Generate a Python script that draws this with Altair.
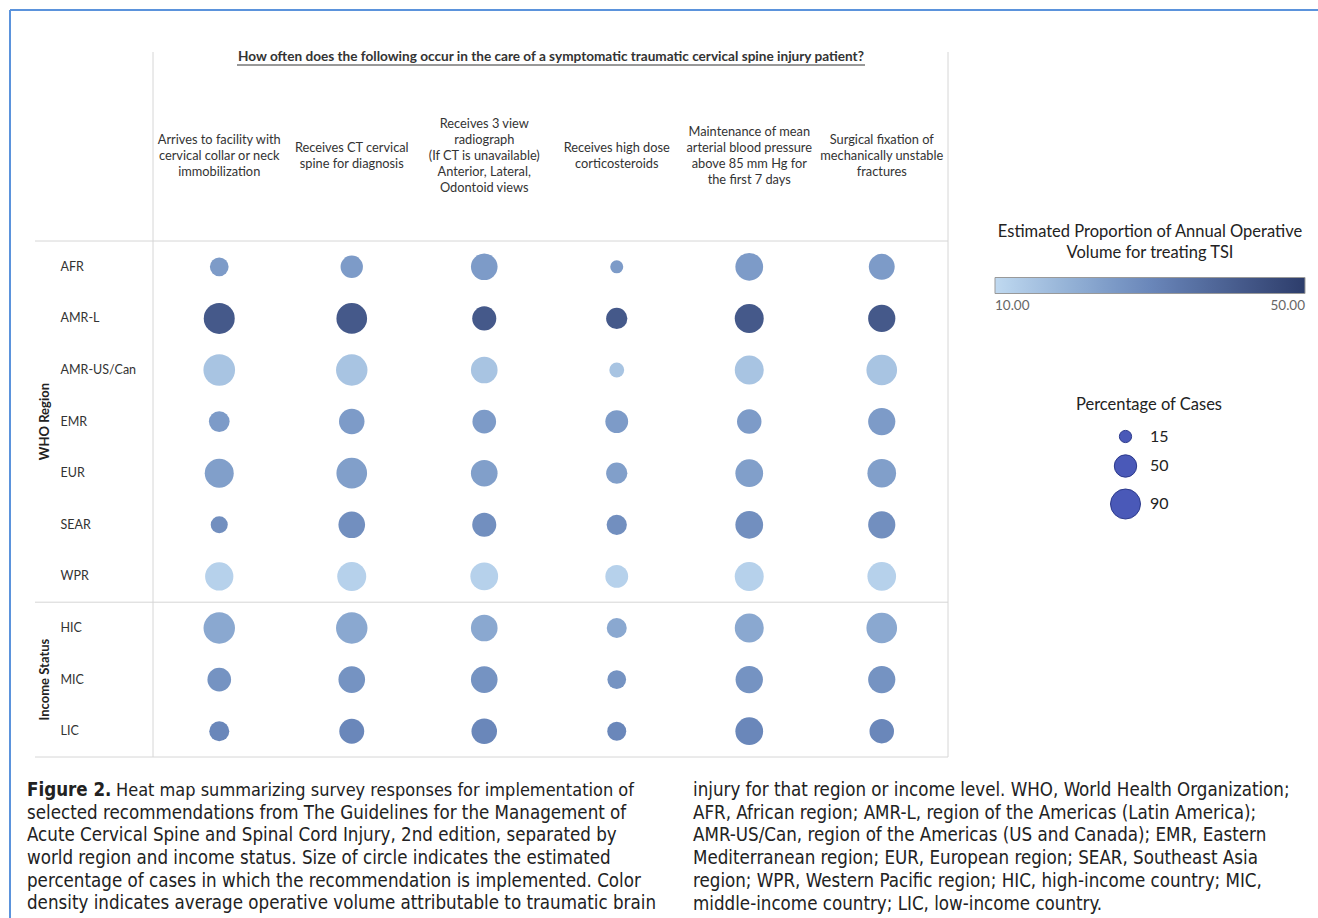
import altair as alt
import pandas as pd

# ---------------- data ----------------
rows = ["AFR", "AMR-L", "AMR-US/Can", "EMR", "EUR", "SEAR", "WPR", "HIC", "MIC", "LIC"]
questions = [
    "Arrives to facility with|cervical collar or neck|immobilization",
    "Receives CT cervical|spine for diagnosis",
    "Receives 3 view|radiograph|(If CT is unavailable)|Anterior, Lateral,|Odontoid views",
    "Receives high dose|corticosteroids",
    "Maintenance of mean|arterial blood pressure|above 85 mm Hg for|the first 7 days",
    "Surgical fixation of|mechanically unstable|fractures",
]
# estimated proportion of annual operative volume for treating TSI (per row)
op_volume = [25, 42, 15, 25, 24, 28, 12, 22, 27, 30]
# percentage of cases (per question, per row)
pct_collar = [35, 96, 100, 43, 84, 29, 80, 99, 56, 40]
pct_ct = [50, 94, 99, 65, 94, 71, 84, 99, 71, 62]
pct_xray = [71, 58, 71, 56, 71, 58, 77, 71, 71, 65]
pct_steroid = [17, 45, 22, 52, 45, 41, 52, 40, 35, 36]
pct_map = [77, 84, 84, 60, 77, 77, 84, 84, 75, 77]
pct_fixation = [67, 74, 94, 74, 82, 74, 82, 94, 74, 60]
pct_all = [pct_collar, pct_ct, pct_xray, pct_steroid, pct_map, pct_fixation]

group_rows = ["EMR", "MIC"]
group_labels = ["WHO Region", "Income Status"]

title_text = ("How often does the following occur in the care of a symptomatic "
              "traumatic cervical spine injury patient?")
cap_left_first = "Heat map summarizing survey responses for implementation of"
cap_left = [
    "selected recommendations from The Guidelines for the Management of",
    "Acute Cervical Spine and Spinal Cord Injury, 2nd edition, separated by",
    "world region and income status. Size of circle indicates the estimated",
    "percentage of cases in which the recommendation is implemented. Color",
    "density indicates average operative volume attributable to traumatic brain",
]
cap_right = [
    "injury for that region or income level. WHO, World Health Organization;",
    "AFR, African region; AMR-L, region of the Americas (Latin America);",
    "AMR-US/Can, region of the Americas (US and Canada); EMR, Eastern",
    "Mediterranean region; EUR, European region; SEAR, Southeast Asia",
    "region; WPR, Western Pacific region; HIC, high-income country; MIC,",
    "middle-income country; LIC, low-income country.",
]

records = []
for q, vals in zip(questions, pct_all):
    for r, v, ov in zip(rows, vals, op_volume):
        records.append({"question": q, "region": r, "pct": v, "volume": ov})
df = pd.DataFrame(records)

# ---------------- style ----------------
W, H = 795, 516
FONT = "Lato"
CAPFONT = "'Liberation Sans Narrow', 'DejaVu Sans Condensed', 'Liberation Sans'"
GRID = "#d6d6d6"
HEAD_LH = 16

xscale = alt.Scale(type="band", domain=questions, paddingInner=0, paddingOuter=0)
yscale = alt.Scale(type="band", domain=rows, paddingInner=0, paddingOuter=0)

y_axis = alt.Axis(labelAlign="left", labelPadding=93, ticks=False, domain=False,
                  grid=False, labelFont=FONT, labelFontSize=12.5, labelColor="#333")

bubbles = alt.Chart(df).mark_circle(opacity=1).encode(
    x=alt.X("question:N", scale=xscale, title=None, axis=None),
    y=alt.Y("region:N", scale=yscale, title=None, axis=y_axis),
    size=alt.Size(
        "pct:Q", scale=alt.Scale(domain=[0, 100], range=[0, 1000]),
        legend=alt.Legend(
            orient="none", legendX=923, legendY=156, title="Percentage of Cases",
            titleFont=FONT, titleFontSize=16.5, titleFontWeight="normal",
            titleColor="#222", titleAnchor="start", titlePadding=15,
            titleLimit=400,
            values=[15, 50, 90], symbolType="circle", symbolFillColor="#4a59b8",
            symbolStrokeColor="#2c3a8c", symbolStrokeWidth=1, symbolOpacity=1,
            symbolOffset=34, labelOffset=9, labelFont=FONT, labelFontSize=16,
            labelColor="#222", rowPadding=6.5,
        ),
    ),
    color=alt.Color(
        "volume:Q",
        scale=alt.Scale(domain=[10, 50], range=["#c0d9f0", "#6a87ba", "#2d3d6b"]),
        legend=alt.Legend(
            orient="none", legendX=842, legendY=-17, direction="horizontal",
            title=["Estimated Proportion of Annual Operative", "Volume for treating TSI"],
            titleFont=FONT, titleFontSize=16.5, titleFontWeight="normal",
            titleColor="#222", titleAnchor="middle", titleAlign="center",
            titleLineHeight=21, titlePadding=16, titleLimit=500, gradientLength=310,
            gradientThickness=16, gradientStrokeColor="#999", gradientStrokeWidth=1,
            values=[10, 50], format=".2f", labelFont=FONT, labelFontSize=13.5,
            labelColor="#666", labelOffset=5,
        ),
    ),
)

# column headers: multi-line text centred vertically on one line
headers = alt.Chart(pd.DataFrame({"question": questions})).transform_calculate(
    lines="split(datum.question, '|')"
).mark_text(
    font=FONT, fontSize=12.8, color="#333", align="center", baseline="middle",
    lineHeight=HEAD_LH,
    dy=alt.expr(f"-(length(split(datum.question, '|')) - 1) * {HEAD_LH / 2}"),
).encode(
    x=alt.X("question:N", scale=xscale, title=None, axis=None),
    y=alt.value(-85),
    text=alt.Text("lines:N"),
)

# table grid lines through the band scales
hrules_top = alt.Chart(pd.DataFrame({"region": ["AFR", "HIC"]})).mark_rule(
    color=GRID, strokeWidth=1
).encode(
    y=alt.Y("region:N", scale=yscale, title=None, axis=y_axis, bandPosition=0),
    x=alt.value(-118), x2=alt.value("width"),
)
hrules_bottom = alt.Chart(pd.DataFrame({"region": ["LIC"]})).mark_rule(
    color=GRID, strokeWidth=1
).encode(
    y=alt.Y("region:N", scale=yscale, title=None, axis=y_axis, bandPosition=1),
    x=alt.value(-118), x2=alt.value("width"),
)
vrule_left = alt.Chart(pd.DataFrame({"question": [questions[0]]})).mark_rule(
    color=GRID, strokeWidth=1
).encode(
    x=alt.X("question:N", scale=xscale, title=None, axis=None, bandPosition=0),
    y=alt.value(-189), y2=alt.value("height"),
)
vrule_right = alt.Chart(pd.DataFrame({"question": [questions[-1]]})).mark_rule(
    color=GRID, strokeWidth=1
).encode(
    x=alt.X("question:N", scale=xscale, title=None, axis=None, bandPosition=1),
    y=alt.value(-189), y2=alt.value("height"),
)

groups = alt.Chart(pd.DataFrame({"region": group_rows, "label": group_labels})).mark_text(
    angle=270, font=FONT, fontSize=13, fontWeight="bold", color="#222",
    align="center", baseline="middle",
).encode(
    y=alt.Y("region:N", scale=yscale, title=None, axis=y_axis),
    x=alt.value(-108),
    text="label:N",
)

one = alt.Data(values=[{"k": 1}])

title = alt.Chart(one).mark_text(
    text=title_text, font=FONT, fontSize=13.6, fontWeight="bold", color="#333",
    align="center", baseline="middle",
).encode(x=alt.value(398), y=alt.value(-184))
underline = alt.Chart(one).mark_rule(color="#333", strokeWidth=1).encode(
    x=alt.value(84), x2=alt.value(712), y=alt.value(-176)
)

frame_top = alt.Chart(one).mark_rule(color="#5b93dc", strokeWidth=2).encode(
    x=alt.value(-143), x2=alt.value(1165), y=alt.value(-231)
)
frame_left = alt.Chart(one).mark_rule(color="#5b93dc", strokeWidth=2).encode(
    x=alt.value(-143), y=alt.value(-231), y2=alt.value(677)
)

CAP_SIZE = 18.6
CAP_LH = 22.7
cap_fig = alt.Chart(one).mark_text(
    text="Figure 2.", font=CAPFONT, fontSize=CAP_SIZE, fontWeight="bold",
    color="#222", align="left", baseline="alphabetic",
).encode(x=alt.value(-126), y=alt.value(555))
cap_l1 = alt.Chart(one).mark_text(
    text=cap_left_first, font=CAPFONT, fontSize=18, color="#222",
    align="left", baseline="alphabetic",
).encode(x=alt.value(-37), y=alt.value(555))
cap_lrest = alt.Chart(one).mark_text(
    text=cap_left, font=CAPFONT, fontSize=CAP_SIZE, color="#222",
    align="left", baseline="alphabetic", lineHeight=CAP_LH,
).encode(x=alt.value(-126), y=alt.value(555 + CAP_LH))
cap_r = alt.Chart(one).mark_text(
    text=cap_right, font=CAPFONT, fontSize=CAP_SIZE, color="#222",
    align="left", baseline="alphabetic", lineHeight=CAP_LH,
).encode(x=alt.value(540), y=alt.value(555))

chart = alt.layer(
    bubbles, headers, hrules_top, hrules_bottom, vrule_left, vrule_right, groups,
    title, underline, frame_top, frame_left, cap_fig, cap_l1, cap_lrest, cap_r,
).properties(
    width=W, height=H,
    autosize=alt.AutoSizeParams(type="none"),
    padding={"left": 153, "top": 241, "right": 370, "bottom": 161},
).configure_view(stroke=None)

chart.save("out.html", embed_options={"renderer": "svg", "actions": False})
